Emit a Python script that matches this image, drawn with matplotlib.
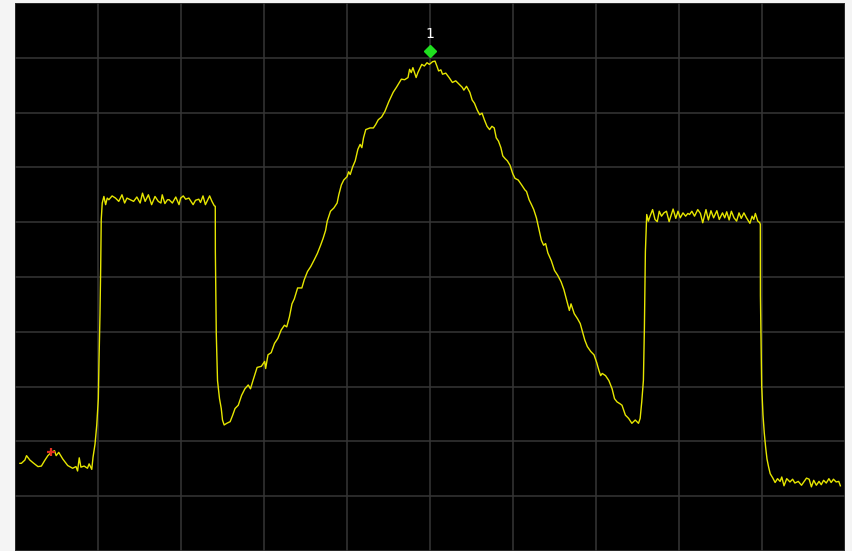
import matplotlib
matplotlib.use("Agg")
import matplotlib.pyplot as plt
from matplotlib.transforms import offset_copy

# Frequency (MHz, 0..100 span) and level (dBm)
freq = [0.60, 0.77, 1.19, 1.39, 1.79, 2.18, 2.77, 3.18, 3.57, 3.96, 4.37, 4.76, 4.96, 5.27, 5.75,
        6.35, 6.94, 7.35, 7.54, 7.74, 7.94, 8.33, 8.73, 8.93, 9.25, 9.40, 9.64, 9.85, 10.04, 10.12,
        10.24, 10.32, 10.39, 10.51, 10.71, 10.92, 11.11, 11.31, 11.70, 12.11, 12.50, 12.89, 13.21, 13.49, 13.89,
        14.29, 14.68, 15.08, 15.36, 15.68, 16.07, 16.46, 16.87, 17.26, 17.58, 17.74, 18.06, 18.37, 18.57, 18.96,
        19.37, 19.76, 19.96, 20.27, 20.56, 20.95, 21.46, 21.75, 22.14, 22.35, 22.65, 22.94, 23.13, 23.45, 23.73,
        24.01, 24.13, 24.14, 24.25, 24.40, 24.64, 24.85, 25.00, 25.20, 25.51, 25.92, 26.23, 26.51, 26.90, 27.30,
        27.70, 28.10, 28.37, 28.69, 29.17, 29.68, 30.08, 30.20, 30.48, 30.87, 31.27, 31.67, 32.06, 32.46, 32.74,
        33.06, 33.37, 33.65, 34.05, 34.56, 34.85, 35.24, 35.63, 36.04, 36.43, 36.82, 37.11, 37.42, 37.62, 38.01,
        38.42, 38.81, 39.01, 39.32, 39.61, 40.00, 40.20, 40.39, 40.68, 40.99, 41.31, 41.58, 41.79, 41.99, 42.26,
        42.77, 43.18, 43.45, 43.77, 44.17, 44.56, 45.04, 45.56, 45.95, 46.55, 46.94, 47.35, 47.54, 47.74, 47.94,
        48.13, 48.33, 48.54, 48.73, 49.01, 49.32, 49.64, 49.92, 50.32, 50.60, 50.83, 51.04, 51.31, 51.51, 51.90,
        52.30, 52.70, 53.10, 53.49, 53.89, 54.08, 54.40, 54.80, 55.08, 55.36, 55.68, 55.99, 56.27, 56.55, 56.87,
        57.18, 57.46, 57.74, 57.98, 58.25, 58.54, 58.77, 59.05, 59.32, 59.64, 59.96, 60.24, 60.63, 61.04, 61.43,
        61.63, 61.94, 62.23, 62.50, 62.82, 63.13, 63.42, 63.69, 63.93, 64.20, 64.61, 65.00, 65.39, 65.80, 66.13,
        66.39, 66.79, 66.99, 67.38, 67.77, 68.10, 68.37, 68.65, 68.96, 69.37, 69.76, 70.08, 70.36, 70.56, 70.75,
        71.15, 71.55, 71.94, 72.23, 72.54, 72.86, 73.13, 73.54, 73.93, 74.32, 74.73, 75.12, 75.32, 75.51, 75.71,
        75.83, 75.95, 76.11, 76.31, 76.51, 76.82, 77.11, 77.38, 77.62, 77.89, 78.18, 78.49, 78.81, 79.08, 79.29,
        79.61, 79.88, 80.15, 80.48, 80.80, 81.07, 81.27, 81.55, 81.87, 82.26, 82.58, 82.86, 83.25, 83.54, 83.85,
        84.17, 84.56, 84.85, 85.24, 85.51, 85.75, 86.04, 86.31, 86.63, 86.94, 87.23, 87.50, 87.82, 88.13, 88.54,
        88.81, 89.01, 89.20, 89.49, 89.73, 89.80, 89.81, 89.96, 90.12, 90.27, 90.44, 90.60, 90.80, 90.99, 91.31,
        91.58, 91.87, 92.18, 92.38, 92.65, 92.98, 93.37, 93.69, 93.96, 94.37, 94.76, 95.04, 95.36, 95.68, 95.95,
        96.23, 96.55, 96.87, 97.14, 97.42, 97.74, 98.06, 98.33, 98.61, 98.93, 99.25, 99.44]

level = [-84.0, -84.0, -83.4, -82.6, -83.4, -83.9, -84.6, -84.5, -83.5, -82.6, -82.0, -81.7, -82.6, -82.0, -83.2,
         -84.4, -84.9, -84.6, -85.4, -83.0, -84.7, -84.5, -84.9, -84.1, -85.1, -82.9, -80.5, -77.0, -72.2, -65.4,
         -56.7, -48.7, -39.5, -36.5, -35.3, -36.8, -35.6, -35.9, -35.2, -35.6, -36.2, -35.0, -36.5, -35.6, -35.9,
         -36.2, -35.4, -36.5, -34.7, -36.2, -35.0, -36.8, -35.3, -36.2, -36.5, -35.0, -36.6, -35.9, -35.9, -36.5,
         -35.4, -36.8, -35.6, -35.2, -35.8, -35.6, -36.8, -36.0, -35.8, -36.4, -35.2, -36.8, -36.2, -35.2, -36.2,
         -37.0, -37.1, -45.4, -60.3, -68.9, -72.2, -74.0, -76.1, -77.0, -76.7, -76.4, -75.2, -74.0, -73.4, -71.6,
         -70.4, -69.7, -70.4, -68.8, -66.5, -66.3, -65.4, -66.7, -64.2, -63.8, -62.1, -61.2, -59.7, -58.8, -59.1,
         -57.3, -54.9, -54.0, -52.0, -52.0, -50.5, -49.0, -48.1, -46.9, -45.7, -44.2, -43.0, -41.5, -39.8, -38.0,
         -37.4, -36.5, -35.0, -33.2, -32.3, -31.7, -30.8, -31.3, -29.9, -28.8, -26.7, -25.8, -26.4, -24.6, -23.1,
         -22.8, -22.8, -22.2, -21.3, -20.8, -19.8, -18.0, -16.3, -15.4, -13.9, -14.0, -13.6, -12.1, -12.7, -11.8,
         -12.7, -13.6, -12.7, -12.1, -11.2, -11.5, -10.9, -11.2, -10.7, -10.6, -11.5, -12.4, -12.2, -13.0, -12.8,
         -13.6, -14.5, -14.2, -14.8, -15.4, -15.9, -15.2, -16.3, -17.7, -18.3, -19.5, -20.4, -20.1, -21.3, -22.5,
         -23.1, -22.5, -22.8, -24.6, -25.2, -26.4, -27.9, -28.4, -28.8, -29.6, -31.1, -32.0, -32.3, -33.2, -34.1,
         -34.4, -35.9, -36.8, -37.7, -39.2, -41.3, -43.3, -44.2, -43.9, -45.6, -47.0, -48.8, -49.7, -50.9, -52.3,
         -53.8, -56.1, -54.9, -56.7, -57.6, -58.5, -60.0, -61.5, -62.7, -63.6, -64.2, -65.6, -67.1, -68.0, -67.6,
         -68.0, -68.9, -70.4, -72.2, -72.8, -73.1, -73.4, -75.2, -75.8, -76.7, -76.1, -76.7, -75.8, -72.8, -68.9,
         -59.4, -45.4, -38.6, -39.8, -38.9, -37.7, -39.5, -39.9, -38.0, -38.9, -38.3, -38.0, -39.9, -38.6, -37.6,
         -39.3, -38.0, -39.2, -38.3, -38.9, -38.4, -38.6, -38.0, -38.9, -37.7, -38.4, -40.1, -37.7, -39.6, -37.9,
         -39.2, -37.9, -39.5, -38.3, -39.2, -38.1, -39.6, -38.0, -39.2, -39.8, -38.3, -39.3, -38.3, -39.2, -40.2,
         -38.9, -39.5, -38.4, -39.8, -40.1, -40.4, -53.4, -69.8, -75.2, -78.4, -81.1, -83.2, -84.7, -85.9, -86.7,
         -87.5, -86.8, -87.3, -86.5, -88.1, -86.8, -87.4, -86.9, -87.6, -87.3, -88.0, -87.4, -86.7, -86.9, -88.3,
         -87.1, -88.0, -87.3, -87.9, -87.1, -87.6, -86.8, -87.5, -86.9, -87.4, -87.3, -88.1]

# Markers
marker1_freq = 50.0
marker1_level = -10.6
marker1_label = "1"
ref_marker_freq = 4.37
ref_marker_level = -82.0

W, H = 852, 551
fig = plt.figure(figsize=(W / 100, H / 100), dpi=100, facecolor="#f4f4f4")
ax = fig.add_axes([15 / W, 0, 830 / W, 548 / H])
ax.set_facecolor("black")

ax.plot(freq, level, color="#e6e600", lw=1.0, zorder=3)

ax.set_xlim(0.714, 99.52)
ax.set_ylim(-99.16, -1.30)
ax.set_xticks(range(0, 101, 10))
ax.set_yticks(range(-100, 1, 10))
ax.tick_params(length=0, labelbottom=False, labelleft=False)
ax.grid(True, color="#363636", lw=1.1)
for s in ax.spines.values():
    s.set_visible(False)

# marker 1 (diamond drawn just above the trace point)
tr_d = offset_copy(ax.transData, fig=fig, x=0, y=7.5, units="points")
ax.plot([marker1_freq], [marker1_level], marker="D", ms=6.2, color="#1fe01f",
        mec="#1fe01f", transform=tr_d, zorder=5, clip_on=False)
tr_t = offset_copy(ax.transData, fig=fig, x=0, y=19.5, units="points")
ax.text(marker1_freq, marker1_level, marker1_label, color="white", fontsize=10,
        ha="center", va="center", transform=tr_t, zorder=5)

# small reference marker on the left
ax.plot([ref_marker_freq], [ref_marker_level], marker="+", ms=6, mew=1.6,
        color="#e03020", zorder=4)

fig.savefig("out.png", dpi=100, facecolor=fig.get_facecolor())
